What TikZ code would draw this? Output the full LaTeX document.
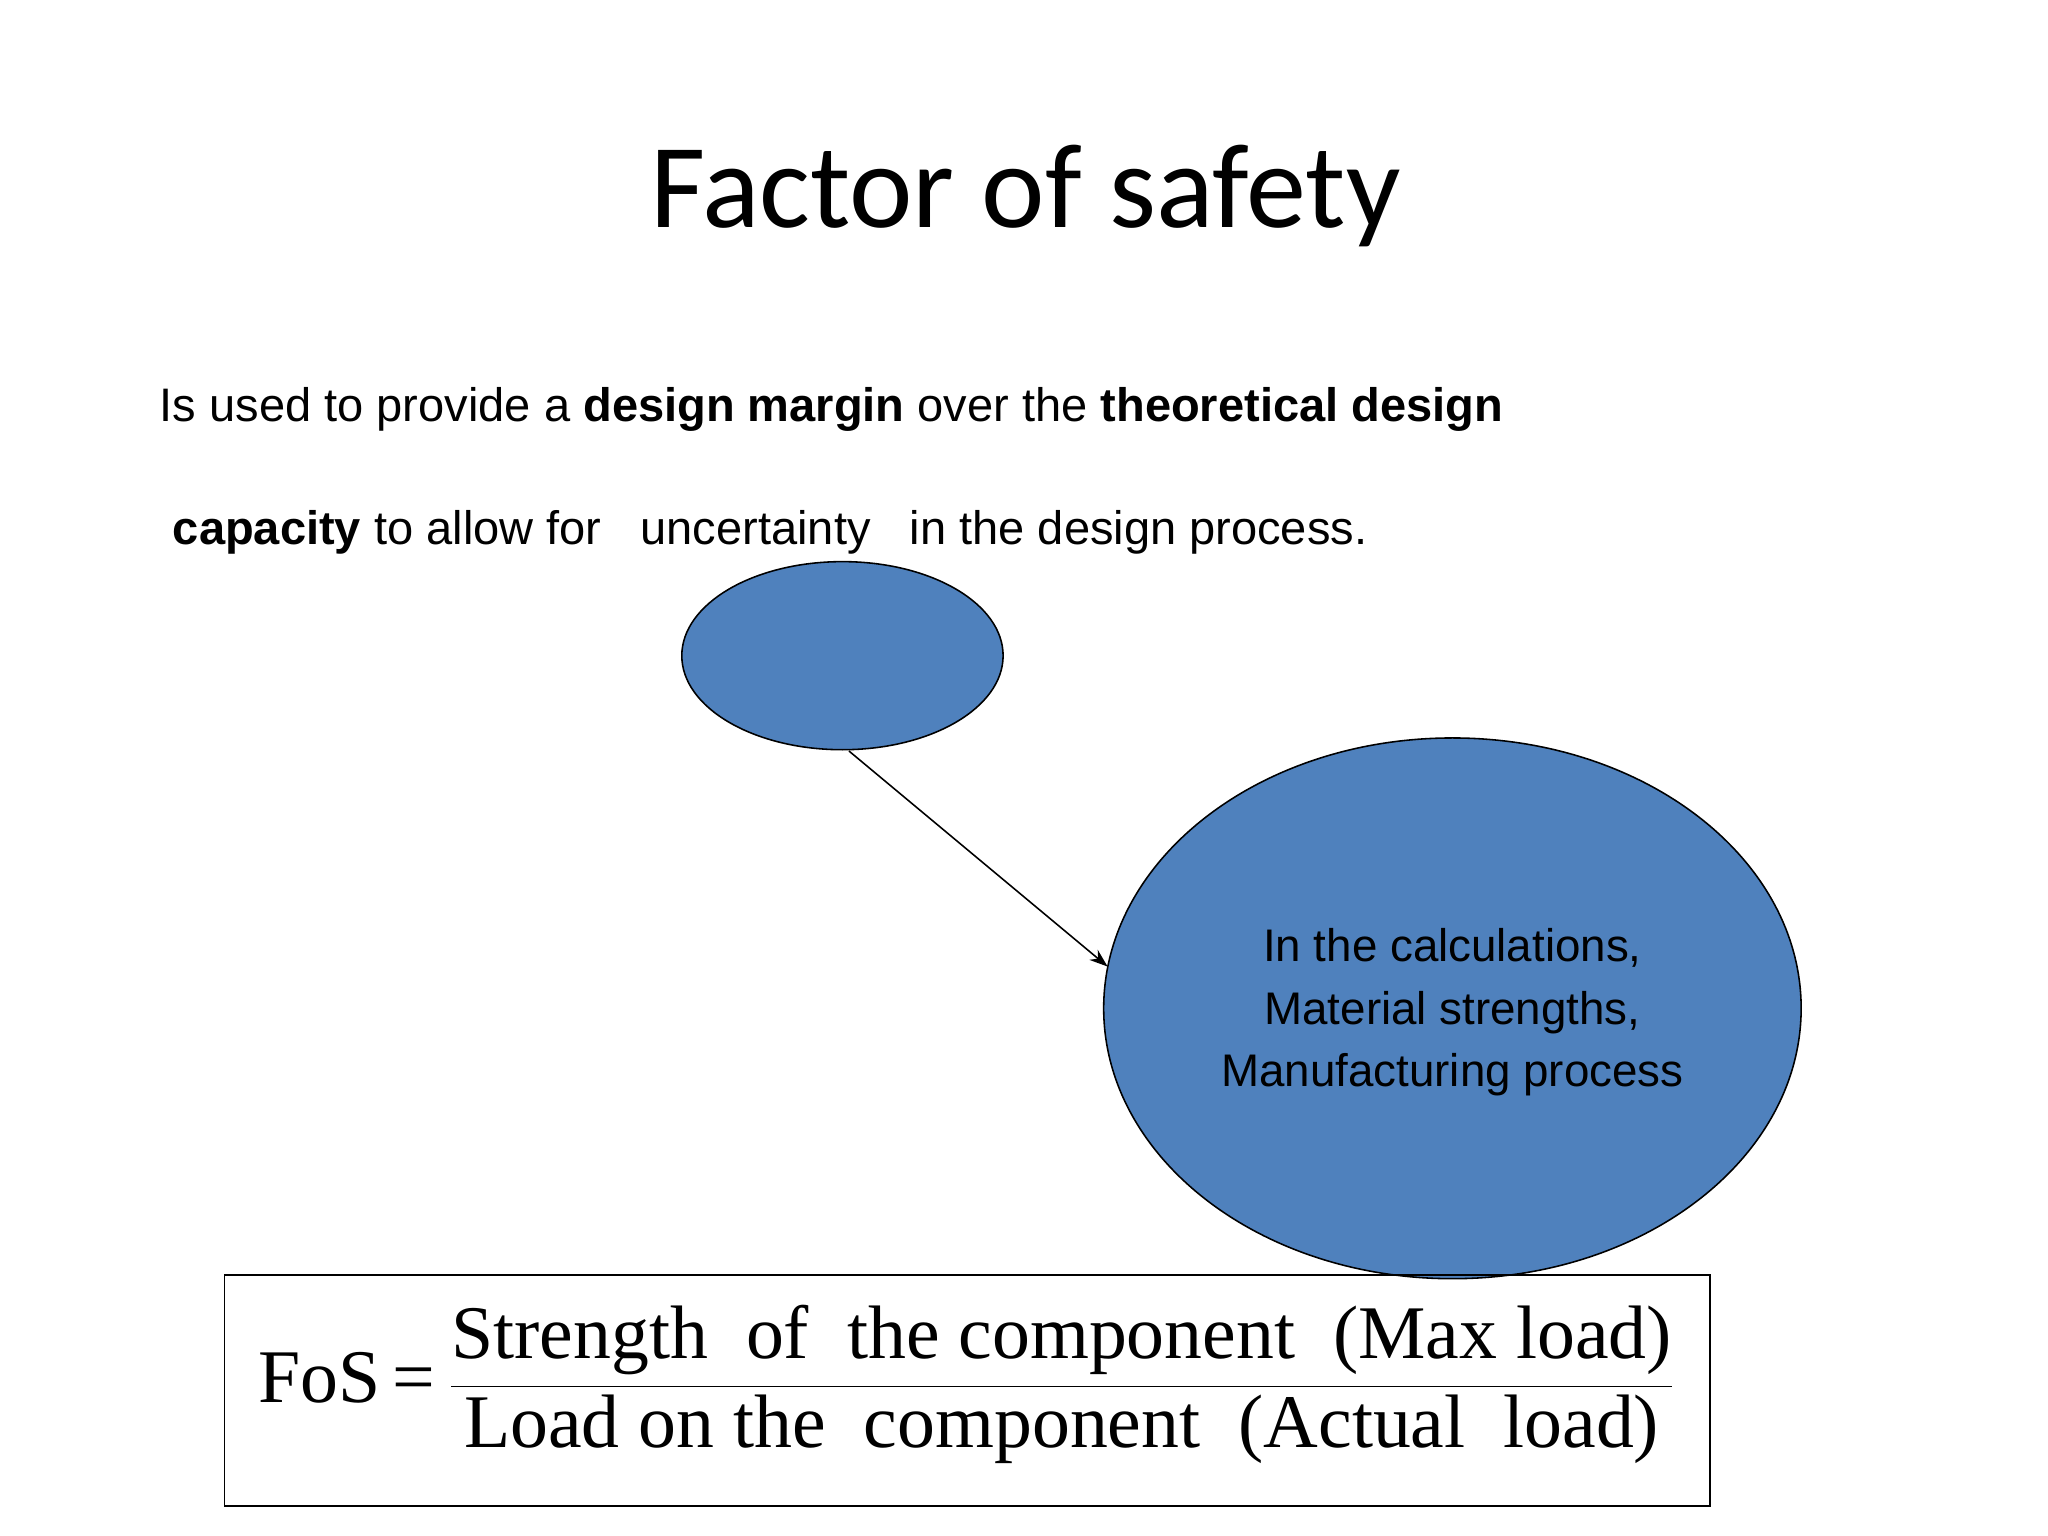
\documentclass[tikz,border=0pt]{standalone}
\usepackage{fontspec}
\setmainfont{Liberation Sans}
\newfontfamily\titlefont{Carlito}
\newfontfamily\timesfont{Liberation Serif}
\usetikzlibrary{arrows.meta}
\definecolor{blu}{HTML}{4F81BD}
\begin{document}
\begin{tikzpicture}[x=0.5pt,y=-0.5pt,
  bubble/.style={draw=black,fill=blu,line width=0.6pt}]
\useasboundingbox (0,0) rectangle (1568,1176);
\node (title) at (785,150) {\titlefont\fontsize{46}{50}\selectfont Factor of safety};
\node[anchor=base west,inner sep=0] (l1) at (122,323) {\fontsize{18}{22}\selectfont Is used to provide a \textbf{design margin} over the \textbf{theoretical design}};
\node[anchor=base west,inner sep=0] (l2) at (132,417) {\fontsize{18}{22}\selectfont \textbf{capacity} to allow for\ \ \ uncertainty\ \ \ in the design process.};
\draw[bubble] (645,502) ellipse [x radius=123, y radius=72];
\coordinate (s) at (650,575);
\draw[bubble] (1112,772) ellipse [x radius=267, y radius=207];
\coordinate (t) at (848,740);
\node[align=center,font=\fontsize{17.5}{24}\selectfont] (bt) at (1112,775) {In the calculations,\\Material strengths,\\Manufacturing process};
\draw[-{Stealth[length=7pt,width=5pt]},line width=0.6pt] (s) -- (t);
\draw[line width=0.6pt] (172,976) rectangle (1309,1153);
\node (fos) at (740,1060) {\timesfont\fontsize{29}{30}\selectfont FoS\,=\,$\displaystyle\frac{\mbox{\timesfont\fontsize{29}{30}\selectfont Strength\ \ of\ \ the component\ \ (Max load)}}{\mbox{\timesfont\fontsize{29}{30}\selectfont Load on the\ \ component\ \ (Actual\ \ load)}}$};
\end{tikzpicture}
\end{document}
